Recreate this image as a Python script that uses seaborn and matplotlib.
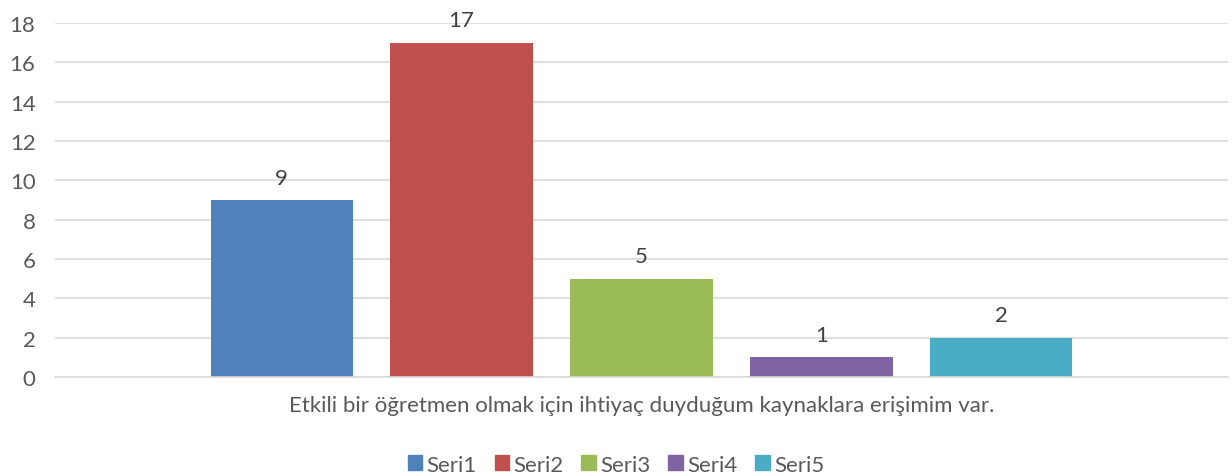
import pandas as pd
import seaborn as sns
import matplotlib.pyplot as plt

# Chart data
category = "Etkili bir öğretmen olmak için ihtiyaç duyduğum kaynaklara erişimim var."
series = ["Seri1", "Seri2", "Seri3", "Seri4", "Seri5"]
values = [9, 17, 5, 1, 2]
colors = ["#4f81bd", "#c0504d", "#9bbb59", "#8064a2", "#4bacc6"]

df = pd.DataFrame({"Soru": [category] * len(series), "Seri": series, "Değer": values})

sns.set_style("white")
plt.rcParams["font.family"] = ["Lato", "DejaVu Sans"]

fig = plt.figure(figsize=(12.32, 4.77), dpi=100)
ax = fig.add_axes([0.0446, 0.2075, 0.9522, 0.7422])

sns.barplot(data=df, x="Soru", y="Değer", hue="Seri", hue_order=series,
            palette=colors, width=0.767, gap=0.21, saturation=1,
            linewidth=0, dodge=True, legend=False, ax=ax)

for cont in ax.containers:
    ax.bar_label(cont, padding=9, fontsize=16, color="#404040")

ax.set_xlim(-0.5, 0.5)
ax.set_ylim(0, 18)
ax.set_yticks(range(0, 19, 2))
ax.yaxis.grid(True, color="#d9d9d9", linewidth=1.2)
ax.set_axisbelow(True)
for s in ["top", "right", "left"]:
    ax.spines[s].set_visible(False)
ax.spines["bottom"].set_color("#d9d9d9")
ax.spines["bottom"].set_linewidth(1.2)
ax.tick_params(axis="y", length=0, labelsize=16, labelcolor="#595959", pad=14)
ax.tick_params(axis="x", length=0, labelsize=16, labelcolor="#595959", pad=13)
ax.set_xlabel("")
ax.set_ylabel("")

handles = [plt.Rectangle((0, 0), 1, 1, color=c) for c in colors]
fig.legend(handles, series, loc="center", bbox_to_anchor=(0.5, 0.024),
           ncol=5, frameon=False, fontsize=16, labelcolor="#595959",
           handlelength=0.65, handleheight=0.65, handletextpad=0.2,
           columnspacing=0.8, borderpad=0)

fig.savefig("out.png", dpi=100)
